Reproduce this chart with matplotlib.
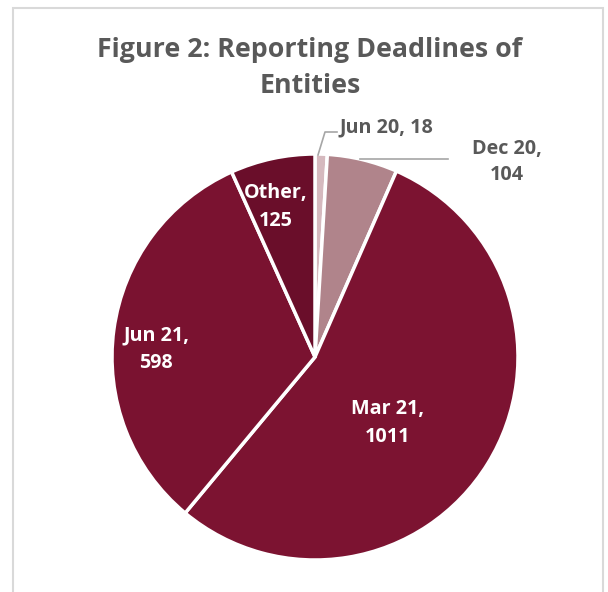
import numpy as np
import matplotlib
matplotlib.use("Agg")
import matplotlib.pyplot as plt
from matplotlib.patches import Rectangle

labels = ["Jun 20", "Dec 20", "Mar 21", "Jun 21", "Other"]
values = [18, 104, 1011, 598, 125]
colors = ["#D5B9BE", "#B0848B", "#7C1331", "#7A1230", "#6A0E2A"]

W, H = 608, 592
fig = plt.figure(figsize=(W / 100, H / 100), dpi=100)
fig.patch.set_facecolor("white")

# chart frame (bottom runs off the picture)
fig.add_artist(Rectangle((13 / W, -0.1), (603 - 13) / W, 1.1 - 8 / H,
                         transform=fig.transFigure, fill=False,
                         edgecolor="#D9D9D9", linewidth=1.5))

# pie: centre (315, 357) px, radius 203 px
cx, cy, r = 315, 357, 203
ax = fig.add_axes([(cx - r) / W, (H - cy - r) / H, 2 * r / W, 2 * r / H])
ax.pie(values, colors=colors, startangle=90, counterclock=False, radius=1,
       wedgeprops=dict(edgecolor="white", linewidth=2.5))
ax.set_xlim(-1, 1)
ax.set_ylim(-1, 1)
ax.set_aspect("equal")
ax.axis("off")

font = "Open Sans"
gray = "#595959"
lblsize = 14.2

def px(x, y):
    return (x - cx) / r, (cy - y) / r

# outside labels with leader lines
ax.plot(*zip(px(318, 155), px(325, 132), px(337, 132)), color="#A6A6A6",
        lw=1.2, clip_on=False)
ax.plot(*zip(px(360, 159), px(448, 159)), color="#A6A6A6", lw=1.2, clip_on=False)

ax.text(*px(340, 127), f"{labels[0]}, {values[0]}", ha="left", va="center",
        fontsize=lblsize, fontweight="bold", color=gray, family=font)
ax.text(*px(507, 162), f"{labels[1]},\n{values[1]}", ha="center", va="center",
        fontsize=lblsize, fontweight="bold", color=gray, family=font,
        linespacing=1.45)

# inside labels
inside = {2: (388, 423), 3: (156, 349), 4: (276, 207)}
for i, (x, y) in inside.items():
    ax.text(*px(x, y), f"{labels[i]},\n{values[i]}", ha="center", va="center",
            fontsize=lblsize, fontweight="bold", color="white", family=font,
            linespacing=1.5)

fig.text(310 / W, 1 - 68 / H, "Figure 2: Reporting Deadlines of\nEntities",
         ha="center", va="center", fontsize=19.3, fontweight="bold", color=gray,
         family=font, linespacing=1.52)

fig.savefig("out.png", dpi=100)
